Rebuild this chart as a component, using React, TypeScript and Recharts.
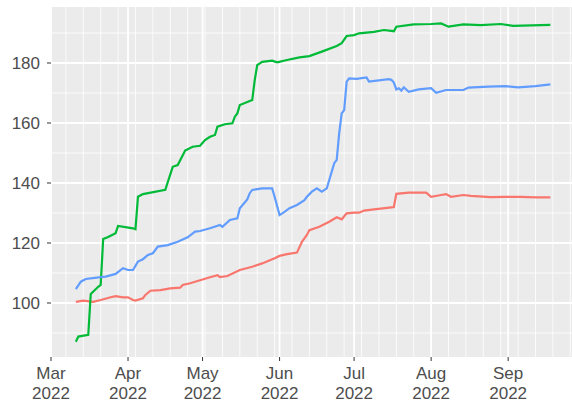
import { LineChart, Line, XAxis, YAxis, CartesianGrid } from "recharts";

document.body.style.margin = "0";

// dates are MM-DD in 2022
const redDates = [
  "03-11", "03-14", "03-18", "03-21", "03-25", "03-27", "03-30", "04-01", "04-03", "04-04",
  "04-07", "04-08", "04-10", "04-14", "04-18", "04-22", "04-23", "04-26", "04-30", "05-04",
  "05-07", "05-08", "05-11", "05-16", "05-21", "05-25", "05-30", "06-01", "06-04", "06-08",
  "06-10", "06-12", "06-13", "06-17", "06-21", "06-24", "06-26", "06-28", "07-01", "07-03",
  "07-05", "07-09", "07-16", "07-17", "07-18", "07-23", "07-30", "08-01", "08-05", "08-07",
  "08-09", "08-14", "08-17", "08-25", "08-31", "09-06", "09-12", "09-18",
];
const redValues = [
  100.4, 100.8, 100.4, 101.0, 101.9, 102.3, 101.9, 101.9, 101.0, 100.8,
  101.6, 102.7, 104.1, 104.3, 104.9, 105.1, 106.0, 106.6, 107.6, 108.6,
  109.3, 108.6, 109.0, 111.0, 112.1, 113.2, 114.9, 115.7, 116.3, 116.8,
  120.4, 122.7, 124.3, 125.4, 127.1, 128.6, 127.9, 129.9, 130.1, 130.1,
  130.8, 131.2, 131.9, 132.0, 136.4, 136.8, 136.8, 135.4, 136.0, 136.3,
  135.4, 136.0, 135.7, 135.3, 135.4, 135.4, 135.2, 135.2,
];

const greenDates = [
  "03-11", "03-12", "03-16", "03-17", "03-20", "03-21", "03-22", "03-24", "03-27", "03-28",
  "04-03", "04-04", "04-05", "04-07", "04-16", "04-19", "04-21", "04-24", "04-27", "04-30",
  "05-02", "05-04", "05-06", "05-07", "05-10", "05-13", "05-14", "05-15", "05-16", "05-21",
  "05-22", "05-23", "05-25", "05-29", "05-31", "06-04", "06-09", "06-13", "06-18", "06-24",
  "06-26", "06-28", "07-01", "07-03", "07-09", "07-13", "07-17", "07-18", "07-25", "08-01",
  "08-05", "08-08", "08-14", "08-21", "08-29", "09-03", "09-18",
];
const greenValues = [
  87.1, 88.8, 89.4, 103.0, 105.4, 106.0, 121.3, 122.0, 123.3, 125.7,
  124.9, 124.6, 135.4, 136.3, 137.7, 145.4, 146.0, 150.8, 152.1, 152.4,
  154.3, 155.4, 156.0, 158.8, 159.6, 159.9, 162.1, 163.2, 166.0, 167.7,
  174.3, 179.3, 180.4, 180.8, 180.2, 181.0, 181.9, 182.3, 183.8, 185.7,
  186.6, 189.0, 189.3, 189.9, 190.4, 191.0, 190.6, 192.1, 192.9, 193.0,
  193.2, 192.1, 192.9, 192.6, 193.0, 192.4, 192.7,
];

const blueDates = [
  "03-11", "03-13", "03-15", "03-21", "03-23", "03-27", "03-30", "04-01", "04-03", "04-05",
  "04-07", "04-09", "04-11", "04-13", "04-17", "04-21", "04-23", "04-25", "04-28", "04-30",
  "05-04", "05-08", "05-09", "05-12", "05-15", "05-16", "05-19", "05-20", "05-21", "05-25",
  "05-29", "05-30", "06-01", "06-03", "06-05", "06-08", "06-11", "06-12", "06-14", "06-16",
  "06-18", "06-20", "06-21", "06-23", "06-24", "06-25", "06-26", "06-27", "06-28", "06-29",
  "07-02", "07-06", "07-07", "07-15", "07-16", "07-17", "07-18", "07-19", "07-20", "07-21",
  "07-23", "07-27", "08-01", "08-03", "08-07", "08-14", "08-16", "08-24", "08-31", "09-05",
  "09-12", "09-18",
];
const blueValues = [
  104.6, 107.1, 108.0, 108.6, 108.8, 109.7, 111.6, 111.0, 111.0, 113.8,
  114.6, 116.0, 116.6, 118.8, 119.3, 120.4, 121.2, 121.9, 123.8, 124.0,
  124.9, 126.0, 125.4, 127.7, 128.2, 131.6, 134.5, 136.6, 137.7, 138.2,
  138.2, 135.4, 129.3, 130.4, 131.6, 132.7, 134.3, 135.4, 137.1, 138.2,
  137.1, 138.2, 141.0, 146.6, 147.7, 156.6, 163.2, 164.3, 173.8, 174.9,
  174.7, 175.2, 173.8, 174.6, 174.4, 173.5, 171.2, 171.6, 170.8, 171.9,
  170.4, 171.2, 171.6, 170.1, 171.0, 171.0, 171.8, 172.1, 172.3, 171.9,
  172.3, 172.9,
];

const monthLabels = ["Mar", "Apr", "May", "Jun", "Jul", "Aug", "Sep"];
const monthStarts = ["03-01", "04-01", "05-01", "06-01", "07-01", "08-01", "09-01"];
const weekStarts = [
  "02-28", "03-07", "03-14", "03-21", "03-28", "04-04", "04-11", "04-18", "04-25", "05-02",
  "05-09", "05-16", "05-23", "05-30", "06-06", "06-13", "06-20", "06-27", "07-04", "07-11",
  "07-18", "07-25", "08-08", "08-15", "08-22", "08-29", "09-05", "09-12", "09-19", "09-26",
];
const yMajor = [100, 120, 140, 160, 180];
const yMinor = [90, 110, 130, 150, 170, 190];

const dayOf = (md: string) => {
  const [m, d] = md.split("-").map(Number);
  return (Date.UTC(2022, m - 1, d) - Date.UTC(2022, 2, 1)) / 86400000;
};

const series = (dates: string[], values: number[]) =>
  dates.map((d, i) => ({ day: dayOf(d), value: values[i] }));

const redData = series(redDates, redValues);
const greenData = series(greenDates, greenValues);
const blueData = series(blueDates, blueValues);
const monthTicks = monthStarts.map(dayOf);
const weekTicks = weekStarts.map(dayOf);

const FONT = "'Liberation Sans', Arial, sans-serif";

const MonthTick = (props: any) => {
  const { x, y, payload } = props;
  const label = monthLabels[monthTicks.indexOf(payload.value)];
  return (
    <text x={x} y={y} textAnchor="middle" fill="#4D4D4D" fontSize={17} fontFamily={FONT}>
      <tspan x={x} dy={16}>{label}</tspan>
      <tspan x={x} dy={20}>2022</tspan>
    </text>
  );
};

export default function App() {
  return (
    <LineChart
      width={572}
      height={404}
      margin={{ top: 7, right: 0, bottom: 0, left: 0 }}
    >
      <CartesianGrid
        fill="#EBEBEB"
        stroke="#FFFFFF"
        strokeWidth={0.8}
        horizontalValues={yMinor}
        verticalValues={weekTicks}
      />
      <CartesianGrid
        stroke="#FFFFFF"
        strokeWidth={1.8}
        horizontalValues={yMajor}
        verticalValues={monthTicks}
      />
      <XAxis
        dataKey="day"
        type="number"
        domain={[0, 209.7]}
        ticks={monthTicks}
        interval={0}
        axisLine={false}
        tickLine={{ stroke: "#333333" }}
        tickSize={4}
        tickMargin={2}
        height={47}
        tick={<MonthTick />}
      />
      <YAxis
        type="number"
        domain={[82, 198.67]}
        ticks={yMajor}
        interval={0}
        width={51}
        axisLine={false}
        tickLine={{ stroke: "#333333" }}
        tickSize={4}
        tickMargin={7}
        tick={{ fill: "#4D4D4D", fontSize: 17, fontFamily: FONT }}
      />
      <Line data={redData} dataKey="value" type="linear" stroke="#F8766D" strokeWidth={2.2} dot={false} isAnimationActive={false} />
      <Line data={greenData} dataKey="value" type="linear" stroke="#00BA38" strokeWidth={2.2} dot={false} isAnimationActive={false} />
      <Line data={blueData} dataKey="value" type="linear" stroke="#619CFF" strokeWidth={2.2} dot={false} isAnimationActive={false} />
    </LineChart>
  );
}
